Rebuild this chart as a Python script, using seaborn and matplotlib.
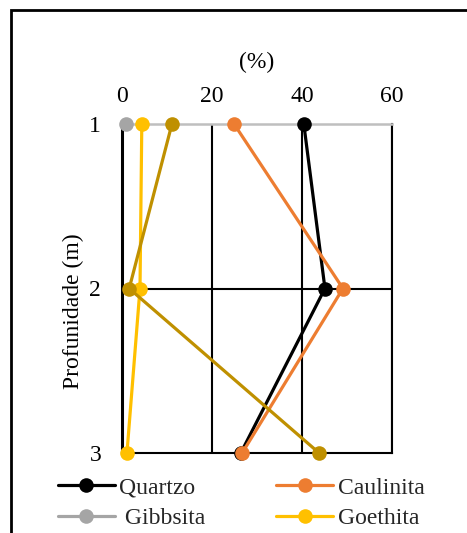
import matplotlib
matplotlib.use("Agg")
import matplotlib.pyplot as plt
from matplotlib.patches import Rectangle
from matplotlib.lines import Line2D
import seaborn as sns
import pandas as pd
import numpy as np

# Mineral content (%) by depth (m)
depth = [1, 2, 3]
quartzo = [40.4, 45.1, 26.4]
caulinita = [24.9, 49.1, 26.7]
gibbsita = [0.9, np.nan, np.nan]
goethita = [4.4, 4.0, 1.1]
hematita = [11.1, 1.6, 43.8]

series_names = ["Quartzo", "Caulinita", "Gibbsita", "Goethita", "Hematita"]
series_values = [quartzo, caulinita, gibbsita, goethita, hematita]
series_colors = ["#000000", "#ED7D31", "#A5A5A5", "#FFC000", "#BF9000"]

x_ticks = [0, 20, 40, 60]
y_ticks = [1, 2, 3]

FS = 17

sns.set_theme(style="white")
plt.rcParams["font.family"] = ["Liberation Serif", "DejaVu Serif"]

fig = plt.figure(figsize=(4.67, 5.33), dpi=100)
ax = fig.add_axes([122 / 467, 1 - 453 / 533, 270 / 467, 329 / 533])

frames = []
for name, vals in zip(series_names, series_values):
    frames.append(pd.DataFrame({"Mineral": name, "pct": vals, "depth": depth}))
df = pd.concat(frames, ignore_index=True).dropna()

for name, color in zip(series_names, series_colors):
    sub = df[df["Mineral"] == name]
    sns.lineplot(data=sub, x="pct", y="depth", orient="y", sort=False,
                 color=color, marker="o", markersize=10.5, markeredgewidth=0,
                 linewidth=2.3, ax=ax, clip_on=False, zorder=3, legend=False)

ax.set_xlim(0, 60)
ax.set_ylim(3, 1)
ax.set_xticks(x_ticks)
ax.set_yticks(y_ticks)
ax.xaxis.tick_top()
ax.xaxis.set_label_position("top")
ax.tick_params(axis="both", length=0, labelsize=FS, colors="black")
ax.tick_params(axis="x", pad=12)
ax.tick_params(axis="y", pad=15)

ax.set_xlabel("(%)", fontsize=FS, color="black")
ax.set_ylabel("Profunidade (m)", fontsize=FS, color="black")
ax.xaxis.set_label_coords(0.5, 1.17)
ax.yaxis.set_label_coords(-0.14, 0.43)

# Grid: black lines on the value grid, grey value axis at the top
for xv in x_ticks[1:]:
    ax.axvline(xv, color="black", linewidth=1.5, zorder=1)
ax.axhline(2, color="black", linewidth=1.5, zorder=1)
for side in ["bottom", "left", "right"]:
    ax.spines[side].set_color("black")
    ax.spines[side].set_linewidth(1.5)
ax.spines["left"].set_linewidth(2.2)
ax.spines["top"].set_color("#BFBFBF")
ax.spines["top"].set_linewidth(1.8)

# Legend in two columns beneath the plot
order = ["Quartzo", "Gibbsita", "Caulinita", "Goethita"]
labels = {"Quartzo": "Quartzo", "Gibbsita": " Gibbsita",
          "Caulinita": "Caulinita", "Goethita": "Goethita"}
leg_handles = [Line2D([], [], color=series_colors[series_names.index(n)],
                      marker="o", markersize=10.5, markeredgewidth=0, linewidth=2.3)
               for n in order]
fig.legend(leg_handles, [labels[n] for n in order], ncol=2, frameon=False,
           loc="upper left", bbox_to_anchor=(58 / 467, 1 - 477 / 533),
           borderpad=0, borderaxespad=0, fontsize=FS, handlelength=2.4,
           handletextpad=0.2, columnspacing=3.0, labelspacing=0.38)

# Outer chart border
fig.patches.append(Rectangle((11 / 467, -0.1), 1.2, 1 - 10 / 533 + 0.1,
                             transform=fig.transFigure, fill=False,
                             edgecolor="black", linewidth=2))

fig.savefig("out.png", dpi=100)
